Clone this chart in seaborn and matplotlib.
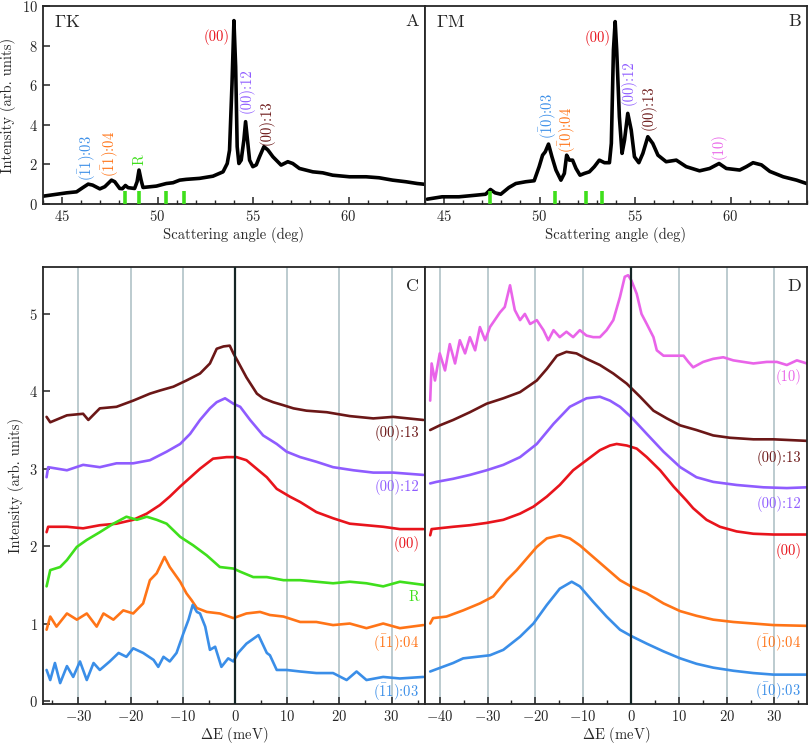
import numpy as np
import matplotlib
matplotlib.use("Agg")
import matplotlib.pyplot as plt
from matplotlib.ticker import MultipleLocator
import seaborn as sns

# ---- panel A : GK scan ----
a_angle = [44.0, 45.24, 45.76, 46.1, 46.37, 46.6, 46.98, 47.24, 47.59, 47.76, 48.02, 48.16, 48.32,
           48.46, 48.8, 48.93, 49.03, 49.14, 49.24, 49.94, 50.46, 50.81, 51.16, 51.5, 52.2, 52.9,
           53.43, 53.65, 53.77, 53.9, 54.0, 54.09, 54.17, 54.26, 54.38, 54.52, 54.61, 54.71, 54.82,
           54.99, 55.17, 55.34, 55.57, 55.78, 56.04, 56.47, 56.82, 57.08, 57.43, 58.13, 58.65,
           59.17, 60.05, 60.92, 61.6, 62.31, 63.0, 63.6, 64.0]
a_int = [0.40, 0.57, 0.62, 0.84, 1.01, 0.96, 0.77, 0.88, 1.21, 1.13, 0.79, 0.78, 0.94,
         0.83, 0.79, 1.13, 1.72, 1.21, 0.84, 0.91, 1.04, 1.08, 1.21, 1.25, 1.30, 1.41,
         1.63, 2.05, 2.72, 6.09, 9.26, 6.94, 2.9, 2.05, 2.22, 3.23, 4.16, 3.23, 2.22,
         1.89, 1.98, 2.39, 2.90, 2.73, 2.39, 1.97, 2.14, 2.05, 1.80, 1.63, 1.58,
         1.46, 1.38, 1.38, 1.33, 1.21, 1.13, 1.04, 1.0]
a_marks = [48.32, 49.03, 50.43, 51.39]

# ---- panel B : GM scan ----
b_angle = [44.12, 44.9, 45.78, 46.66, 47.18, 47.43, 47.67, 47.97, 48.4, 48.76, 49.28, 49.72, 49.98,
           50.16, 50.3, 50.47, 50.65, 50.86, 51.12, 51.3, 51.42, 51.56, 51.73, 51.91, 52.12, 52.35,
           52.61, 52.87, 53.13, 53.4, 53.66, 53.76, 53.87, 53.96, 54.04, 54.18, 54.32, 54.45, 54.62,
           54.8, 54.97, 55.2, 55.41, 55.67, 55.93, 56.2, 56.63, 57.16, 57.68, 58.38, 58.91, 59.4,
           59.78, 60.48, 60.83, 61.18, 61.62, 62.06, 62.76, 63.46, 63.98]
b_int = [0.25, 0.37, 0.37, 0.45, 0.50, 0.74, 0.57, 0.50, 0.84, 1.04, 1.13, 1.18, 1.89,
         2.47, 2.64, 3.03, 2.39, 1.72, 1.21, 1.55, 2.47, 2.22, 2.22, 1.80, 1.46, 1.55,
         1.63, 1.89, 2.22, 2.09, 2.09, 3.07, 7.78, 9.21, 7.78, 4.41, 2.56, 3.23, 4.58,
         3.74, 2.39, 2.09, 2.56, 3.40, 3.06, 2.47, 2.14, 2.22, 1.89, 1.68, 1.80, 2.05,
         1.80, 1.72, 1.89, 2.09, 1.98, 1.65, 1.38, 1.21, 1.04]
b_marks = [47.43, 50.82, 52.44, 53.26]

# ---- panel C : GK energy spectra ----
c_e13 = [-36.1, -35.4, -32.2, -29.1, -28.1, -25.9, -22.7, -19.5, -16.3, -14.4, -11.8, -9.3, -6.7, -4.8,
         -3.5, -2.2, -1.0, -0.3, 0.6, 2.2, 4.2, 5.4, 7.3, 9.3, 11.2, 13.7, 17.6, 22.0, 26.5, 30.3, 36.1]
c_i13 = [3.67, 3.60, 3.69, 3.71, 3.63, 3.78, 3.80, 3.88, 3.97, 4.01, 4.06, 4.14, 4.23, 4.36,
         4.55, 4.58, 4.59, 4.49, 4.38, 4.18, 3.97, 3.91, 3.86, 3.82, 3.78, 3.75, 3.73, 3.68, 3.65, 3.67, 3.63]
c_e12 = [-36.1, -35.8, -32.2, -29.1, -25.9, -22.7, -19.5, -16.3, -13.1, -10.5, -8.6, -6.7, -4.8, -3.5,
         -1.9, -0.3, 1.0, 2.9, 5.4, 8.0, 9.9, 12.5, 15.6, 18.8, 22.7, 26.5, 30.3, 36.1]
c_i12 = [2.89, 3.02, 2.98, 3.05, 3.02, 3.07, 3.07, 3.11, 3.22, 3.32, 3.45, 3.63, 3.78, 3.86,
         3.91, 3.84, 3.80, 3.63, 3.43, 3.32, 3.22, 3.15, 3.09, 3.02, 2.98, 2.95, 2.95, 2.92]
c_e00 = [-36.1, -35.8, -32.2, -29.1, -25.9, -22.7, -19.5, -16.9, -14.4, -12.5, -10.5, -6.7, -4.2, -1.6,
         0.3, 2.2, 6.1, 8.0, 10.5, 12.5, 15.6, 18.8, 22.0, 25.2, 28.4, 31.6, 36.1]
c_i00 = [2.18, 2.25, 2.25, 2.23, 2.27, 2.29, 2.34, 2.42, 2.53, 2.64, 2.77, 3.00, 3.13, 3.15,
         3.15, 3.11, 2.89, 2.74, 2.64, 2.57, 2.44, 2.36, 2.29, 2.27, 2.25, 2.22, 2.22]
c_eR = [-36.1, -35.4, -33.5, -32.2, -30.3, -28.4, -25.9, -23.3, -20.8, -18.8, -16.9, -15.0, -13.1, -10.5,
        -8.0, -5.4, -2.9, -0.3, 1.0, 3.5, 6.1, 9.3, 12.5, 15.6, 18.8, 22.0, 25.2, 28.4, 31.6, 36.1]
c_iR = [1.48, 1.69, 1.73, 1.82, 1.99, 2.08, 2.18, 2.29, 2.38, 2.34, 2.38, 2.34, 2.29, 2.12,
        2.01, 1.88, 1.73, 1.71, 1.67, 1.60, 1.60, 1.56, 1.56, 1.54, 1.52, 1.54, 1.52, 1.48, 1.54, 1.50]
c_e04 = [-36.1, -35.4, -34.2, -32.2, -30.3, -28.4, -26.5, -25.2, -23.3, -21.4, -19.5, -17.6, -16.3, -15.0,
         -13.5, -12.5, -10.5, -9.3, -8.3, -7.3, -5.4, -2.9, -0.3, 2.2, 4.8, 6.7, 9.3, 12.5, 15.6,
         18.8, 22.0, 25.2, 28.4, 31.6, 36.1]
c_i04 = [0.92, 1.09, 0.96, 1.13, 1.05, 1.13, 0.96, 1.13, 1.05, 1.17, 1.13, 1.26, 1.56, 1.65,
         1.86, 1.73, 1.54, 1.39, 1.30, 1.20, 1.15, 1.13, 1.07, 1.13, 1.15, 1.11, 1.09, 1.02, 1.02,
         0.98, 1.00, 0.94, 1.00, 0.94, 0.98]
c_e03 = [-36.1, -35.4, -34.5, -33.5, -32.2, -31.0, -29.7, -28.4, -27.1, -25.9, -24.0, -22.3, -20.8, -19.5,
         -17.6, -15.6, -14.7, -13.7, -12.5, -11.2, -9.9, -8.9, -8.1, -7.3, -6.7, -5.7, -4.8, -3.8,
         -2.6, -1.3, -0.3, 0.6, 2.2, 4.5, 6.1, 6.7, 8.0, 9.9, 12.5, 15.6, 18.8, 21.4, 23.3, 25.2,
         28.4, 31.6, 36.1]
c_i03 = [0.40, 0.27, 0.49, 0.23, 0.45, 0.31, 0.51, 0.27, 0.49, 0.40, 0.51, 0.62, 0.57, 0.68,
         0.62, 0.53, 0.44, 0.57, 0.51, 0.62, 0.87, 1.05, 1.24, 1.15, 1.13, 0.96, 0.66, 0.70,
         0.44, 0.55, 0.51, 0.62, 0.74, 0.85, 0.62, 0.59, 0.40, 0.40, 0.38, 0.36, 0.36, 0.27, 0.38, 0.27,
         0.31, 0.29, 0.31]

# ---- panel D : GM energy spectra ----
d_e10 = [-42.0, -41.7, -41.0, -40.0, -38.9, -37.9, -36.8, -35.8, -34.7, -33.7, -32.6, -31.6, -30.5, -29.5,
         -28.5, -27.4, -26.4, -25.3, -24.3, -23.2, -22.2, -21.1, -19.7, -18.3, -17.3, -16.2, -14.9,
         -13.5, -12.1, -10.7, -9.3, -7.9, -6.5, -5.1, -3.7, -2.3, -1.3, -0.6, 0.1, 1.2, 2.2, 3.3,
         4.7, 5.4, 6.8, 8.9, 11.0, 12.0, 13.0, 15.1, 17.2, 19.3, 21.4, 23.5, 25.6, 28.4, 30.5, 32.6,
         34.7, 36.8]
d_i10 = [3.88, 4.36, 4.14, 4.49, 4.27, 4.61, 4.36, 4.66, 4.49, 4.70, 4.53, 4.83, 4.66, 4.83,
         4.92, 5.02, 5.09, 5.37, 5.05, 4.92, 5.00, 4.87, 4.92, 4.79, 4.66, 4.79, 4.70,
         4.77, 4.70, 4.79, 4.72, 4.70, 4.70, 4.79, 4.92, 5.22, 5.48, 5.50, 5.43, 5.26, 5.00, 4.87,
         4.70, 4.53, 4.46, 4.46, 4.46, 4.38, 4.31, 4.38, 4.42, 4.44, 4.40, 4.38, 4.36, 4.38, 4.38, 4.34,
         4.40, 4.36]
d_e13 = [-42.0, -40.0, -37.2, -33.7, -30.2, -26.7, -23.2, -19.7, -17.6, -15.5, -13.5, -11.4, -9.3, -6.5,
         -3.7, -0.9, 1.9, 4.7, 7.5, 10.3, 13.7, 17.2, 20.7, 25.6, 29.8, 36.8]
d_i13 = [3.50, 3.56, 3.63, 3.73, 3.84, 3.91, 3.99, 4.14, 4.29, 4.46, 4.51, 4.49, 4.42, 4.34,
         4.23, 4.10, 3.93, 3.75, 3.65, 3.56, 3.50, 3.43, 3.40, 3.38, 3.38, 3.36]
d_e12 = [-42.0, -40.7, -37.2, -33.7, -30.2, -26.7, -23.2, -19.7, -16.2, -12.8, -9.3, -6.5, -4.4, -2.3,
         0.0, 3.3, 6.8, 10.3, 13.7, 17.2, 22.1, 27.7, 32.6, 36.8]
d_i12 = [2.81, 2.83, 2.87, 2.92, 2.98, 3.05, 3.15, 3.32, 3.58, 3.80, 3.91, 3.93, 3.88, 3.80,
         3.67, 3.45, 3.22, 3.02, 2.89, 2.83, 2.79, 2.76, 2.75, 2.76]
d_e00 = [-42.0, -41.7, -37.2, -33.7, -30.2, -26.7, -23.2, -20.4, -17.6, -14.9, -12.1, -9.3, -6.5, -4.4,
         -3.0, -0.9, 1.2, 3.3, 6.1, 8.9, 11.6, 13.0, 15.8, 18.6, 22.1, 25.6, 29.8, 36.8]
d_i00 = [2.14, 2.22, 2.25, 2.27, 2.30, 2.34, 2.42, 2.51, 2.64, 2.79, 2.98, 3.11, 3.24, 3.30,
         3.32, 3.30, 3.26, 3.15, 2.98, 2.77, 2.59, 2.49, 2.34, 2.25, 2.19, 2.16, 2.15, 2.15]
d_e04 = [-42.0, -41.4, -38.6, -35.1, -31.6, -28.8, -26.0, -23.9, -21.8, -19.7, -17.6, -14.9, -12.8, -10.7,
         -7.9, -5.1, -2.3, 0.0, 3.3, 6.8, 10.3, 13.7, 17.2, 21.4, 25.6, 29.8, 36.8]
d_i04 = [1.00, 1.07, 1.09, 1.17, 1.26, 1.35, 1.56, 1.69, 1.84, 1.99, 2.10, 2.14, 2.10, 2.01,
         1.86, 1.71, 1.56, 1.48, 1.39, 1.26, 1.16, 1.10, 1.05, 1.02, 1.00, 0.98, 0.97]
d_e03 = [-42.0, -40.7, -37.2, -35.1, -32.3, -29.5, -26.7, -23.2, -20.4, -17.6, -14.9, -12.4, -10.7, -7.9,
         -5.1, -2.3, 0.0, 3.3, 6.8, 10.3, 13.7, 17.2, 21.4, 25.6, 29.8, 36.8]
d_i03 = [0.38, 0.41, 0.49, 0.55, 0.57, 0.59, 0.66, 0.83, 1.00, 1.24, 1.45, 1.54, 1.48, 1.28,
         1.09, 0.92, 0.84, 0.74, 0.64, 0.55, 0.48, 0.43, 0.39, 0.36, 0.34, 0.34]

BLUE = "#3a8ee8"
ORANGE = "#ff7417"
GREEN = "#3fdf1c"
RED = "#e8141c"
PURPLE = "#8f5cff"
BROWN = "#6b1717"
MAGENTA = "#e964e9"
GRIDC = "#b6c7cb"

sns.set_style("ticks")
plt.rcParams.update({
    "font.family": ["cmr10", "DejaVu Serif"],
    "mathtext.fontset": "cm",
    "axes.formatter.use_mathtext": True,
    "axes.unicode_minus": True,
    "font.size": 10,
    "axes.linewidth": 1.3,
    "xtick.direction": "in",
    "ytick.direction": "in",
    "xtick.major.size": 5,
    "ytick.major.size": 5,
    "xtick.minor.size": 3,
    "xtick.major.width": 1.1,
    "ytick.major.width": 1.1,
    "xtick.minor.width": 1.0,
    "xtick.labelsize": 10.5,
    "ytick.labelsize": 10.5,
})

fig = plt.figure(figsize=(8.1, 7.45), dpi=100)
W = 0.4716
axA = fig.add_axes([0.053, 0.726, W, 0.266])
axB = fig.add_axes([0.053 + W, 0.726, W, 0.266])
axC = fig.add_axes([0.053, 0.055, W, 0.587])
axD = fig.add_axes([0.053 + W, 0.055, W, 0.587])

# top panels
for ax, xs, ys, marks in [(axA, a_angle, a_int, a_marks), (axB, b_angle, b_int, b_marks)]:
    sns.lineplot(x=xs, y=ys, ax=ax, color="black", lw=2.6, sort=False)
    ax.vlines(marks, 0.02, 0.68, color=GREEN, lw=2.6, zorder=3)
    ax.set_xlim(44, 64)
    ax.set_ylim(0, 10)
    ax.xaxis.set_major_locator(MultipleLocator(5))
    ax.xaxis.set_minor_locator(MultipleLocator(1))
    ax.yaxis.set_major_locator(MultipleLocator(2))
    ax.set_xlabel("Scattering angle (deg)", fontsize=10.5, labelpad=2)

axA.set_ylabel("Intensity (arb. units)", fontsize=10.5)
axB.tick_params(axis="y", left=False, labelleft=False)

lab = dict(fontsize=10.5, rotation=90, ha="center", va="bottom")
axA.text(46.3, 1.15, r"$(\bar{1}1)$:03", color=BLUE, **lab)
axA.text(47.55, 1.35, r"$(\bar{1}1)$:04", color=ORANGE, **lab)
axA.text(49.05, 1.95, "R", color=GREEN, **lab)
axA.text(53.75, 8.45, "(00)", color=RED, fontsize=10.5, ha="right", va="center")
axA.text(54.64, 4.6, "(00):12", color=PURPLE, **lab)
axA.text(55.7, 3.0, "(00):13", color=BROWN, **lab)
axA.text(0.03, 0.92, r"$\Gamma$K", transform=axA.transAxes, fontsize=13, va="center")
axA.text(0.985, 0.92, "A", transform=axA.transAxes, fontsize=13, va="center", ha="right")

axB.text(50.47, 3.3, r"$(\bar{1}0)$:03", color=BLUE, **lab)
axB.text(51.47, 2.6, r"$(\bar{1}0)$:04", color=ORANGE, **lab)
axB.text(53.7, 8.4, "(00)", color=RED, fontsize=10.5, ha="right", va="center")
axB.text(54.67, 5.0, "(00):12", color=PURPLE, **lab)
axB.text(55.72, 3.75, "(00):13", color=BROWN, **lab)
axB.text(59.4, 2.3, "(10)", color=MAGENTA, **lab)
axB.text(0.03, 0.92, r"$\Gamma$M", transform=axB.transAxes, fontsize=13, va="center")
axB.text(0.985, 0.92, "B", transform=axB.transAxes, fontsize=13, va="center", ha="right")

# bottom panels
c_series = [(c_e13, c_i13, BROWN, "(00):13", 3.46),
            (c_e12, c_i12, PURPLE, "(00):12", 2.76),
            (c_e00, c_i00, RED, "(00)", 2.03),
            (c_eR, c_iR, GREEN, "R", 1.34),
            (c_e04, c_i04, ORANGE, r"$(\bar{1}1)$:04", 0.74),
            (c_e03, c_i03, BLUE, r"$(\bar{1}1)$:03", 0.11)]
d_series = [(d_e10, d_i10, MAGENTA, "(10)", 4.18),
            (d_e13, d_i13, BROWN, "(00):13", 3.14),
            (d_e12, d_i12, PURPLE, "(00):12", 2.55),
            (d_e00, d_i00, RED, "(00)", 1.94),
            (d_e04, d_i04, ORANGE, r"$(\bar{1}0)$:04", 0.74),
            (d_e03, d_i03, BLUE, r"$(\bar{1}0)$:03", 0.12)]

for ax, series, xlim, letter in [(axC, c_series, (-36.8, 36.4), "C"), (axD, d_series, (-43.1, 36.8), "D")]:
    for g in range(-40, 40, 10):
        if g != 0:
            ax.axvline(g, color=GRIDC, lw=1.3, zorder=0)
    for xs, ys, col, name, ly in series:
        sns.lineplot(x=xs, y=ys, ax=ax, color=col, lw=1.9, sort=False)
        ax.text(0.985, ly, name, color=col, fontsize=10.5, ha="right", va="center",
                transform=ax.get_yaxis_transform())
    ax.axvline(0, color="#152525", lw=1.6, zorder=5)
    ax.set_xlim(*xlim)
    ax.set_ylim(-0.04, 5.61)
    ax.xaxis.set_major_locator(MultipleLocator(10))
    ax.xaxis.set_minor_locator(MultipleLocator(5))
    ax.yaxis.set_major_locator(MultipleLocator(1))
    ax.set_xlabel(r"$\Delta$E (meV)", fontsize=10.5, labelpad=1)
    ax.text(0.985, 0.955, letter, transform=ax.transAxes, fontsize=13, va="center", ha="right")

axC.set_ylabel("Intensity (arb. units)", fontsize=10.5)
axD.tick_params(axis="y", left=False, labelleft=False)

fig.savefig("out.png", dpi=100)
